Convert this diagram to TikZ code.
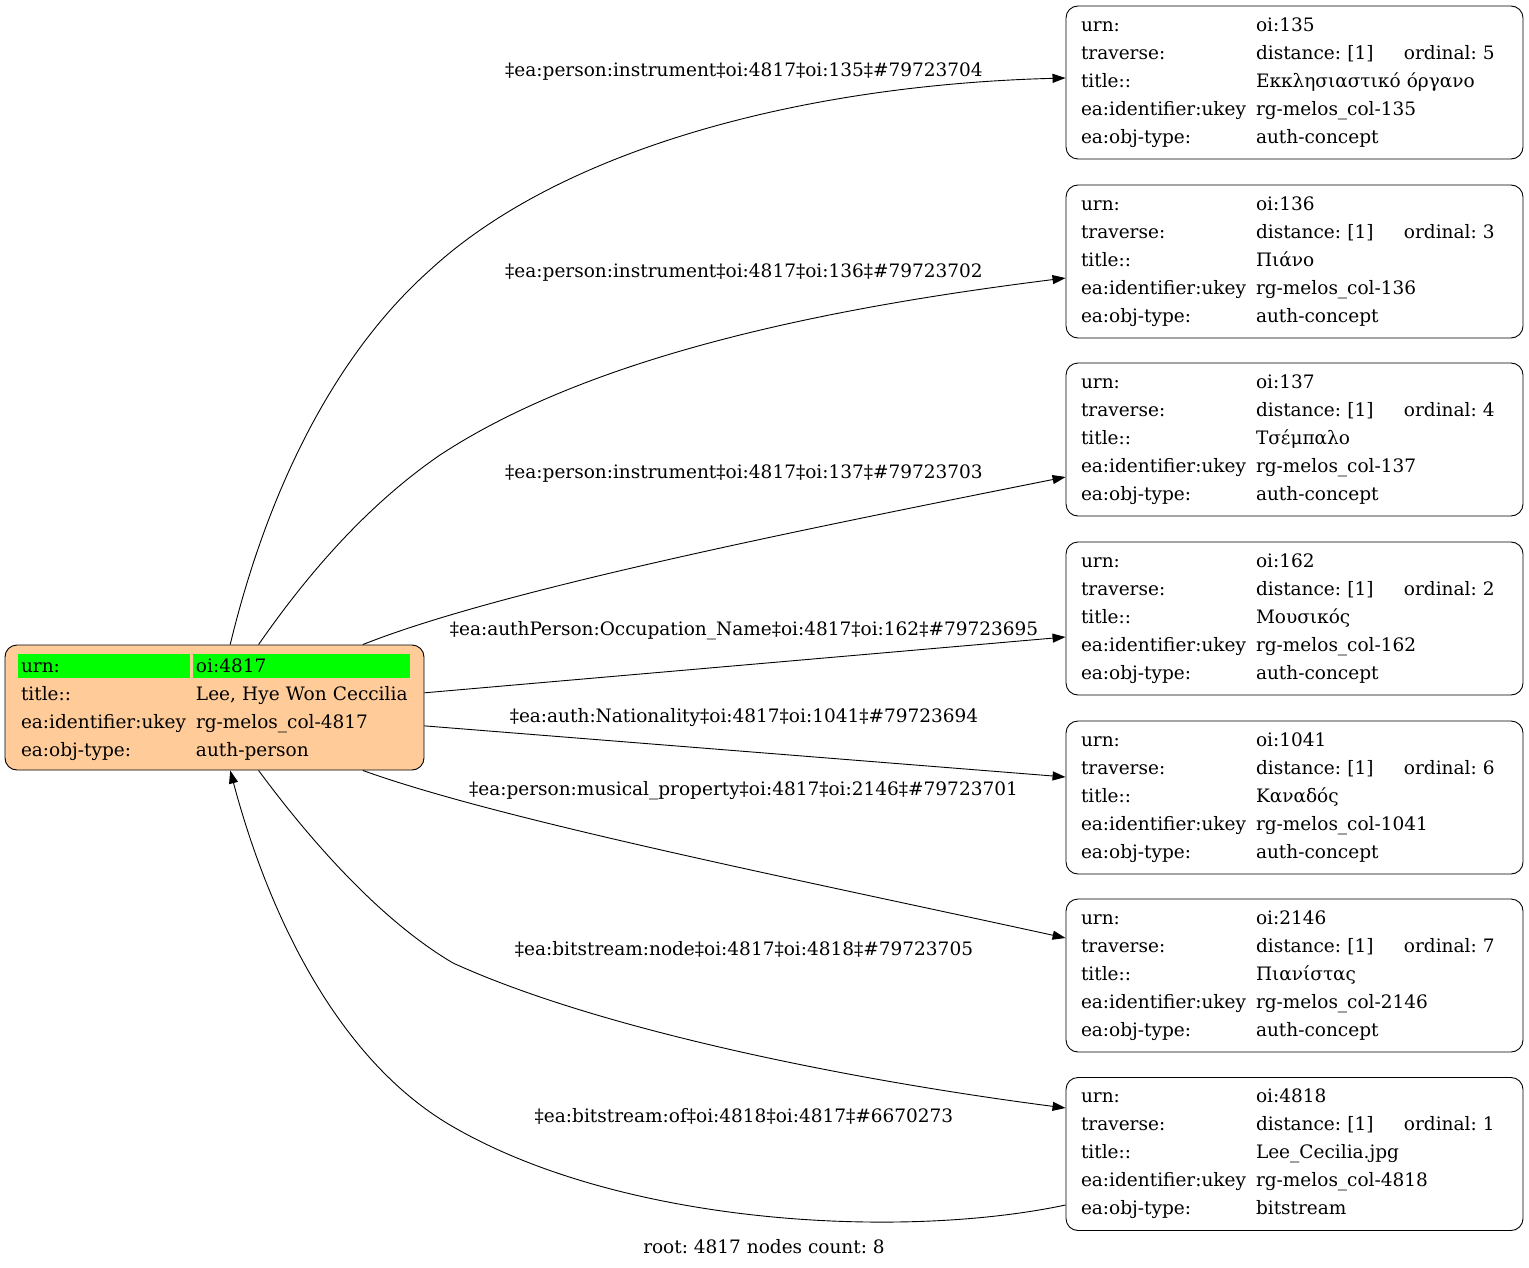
\documentclass[tikz,border=0pt]{standalone}
\usepackage{fontspec}
\setmainfont{DejaVu Serif}
\usepackage{xcolor}
\usepackage{tikz}
\usetikzlibrary{arrows.meta}
\usetikzlibrary{positioning,calc}
\frenchspacing

\definecolor{rootfill}{HTML}{FFCC99}
\definecolor{urngreen}{HTML}{00FF00}

\newcommand{\greencell}[1]{\rlap{\hspace{-3pt}\textcolor{urngreen}{\rule[-6pt]{#1}{24pt}}}}
\newcommand{\conceptrows}[5]{%
\makebox[175pt][l]{urn:}#1\\
\makebox[175pt][l]{traverse:}\makebox[148pt][l]{distance: [1]}ordinal: #2\\
\makebox[175pt][l]{title::}#3\\
\makebox[175pt][l]{ea:identifier:ukey}rg-melos\_col-#4\\
\makebox[175pt][l]{ea:obj-type:}#5}

\begin{document}
\begin{tikzpicture}[x=1pt, y=-1pt, line width=0.9pt,
	every node/.style={font=\fontsize{18.5}{28}\selectfont},
	concept/.style={draw, rectangle, rounded corners=12pt, align=left, text width=427pt, inner xsep=15pt, inner ysep=0pt, minimum height=153pt},
	rootbox/.style={draw, rectangle, rounded corners=12pt, fill=rootfill, align=left, text width=387pt, inner xsep=16pt, inner ysep=0pt, minimum height=125pt},
	edge/.style={-{Triangle[length=13pt,width=9pt]}},
	elabel/.style={inner sep=0pt}]
		\useasboundingbox (0,0) rectangle (1529,1268);

		\node[rootbox] (root) at (214.5,707.5) {\greencell{172pt}\makebox[175pt][l]{urn:}\greencell{217pt}oi:4817\\
			\makebox[175pt][l]{title::}Lee, Hye Won Ceccilia\\
			\makebox[175pt][l]{ea:identifier:ukey}rg-melos\_col-4817\\
			\makebox[175pt][l]{ea:obj-type:}auth-person};

		\node[concept] (c135) at (1294.5,82.5) {\conceptrows{oi:135}{5}{Εκκλησιαστικό όργανο}{135}{auth-concept}};
		\node[concept] (c136) at (1294.5,261.5) {\conceptrows{oi:136}{3}{Πιάνο}{136}{auth-concept}};
		\node[concept] (c137) at (1294.5,439.5) {\conceptrows{oi:137}{4}{Τσέμπαλο}{137}{auth-concept}};
		\node[concept] (c162) at (1294.5,618.5) {\conceptrows{oi:162}{2}{Μουσικός}{162}{auth-concept}};
		\node[concept] (c1041) at (1294.5,797.5) {\conceptrows{oi:1041}{6}{Καναδός}{1041}{auth-concept}};
		\node[concept] (c2146) at (1294.5,975.5) {\conceptrows{oi:2146}{7}{Πιανίστας}{2146}{auth-concept}};
		\node[concept] (c4818) at (1294.5,1154) {\conceptrows{oi:4818}{1}{Lee\_Cecilia.jpg}{4818}{bitstream}};

		\draw[edge] (root.76) .. controls (270,480) and (340,350) .. (430,270) .. controls (560,150) and (800,85) .. ([yshift=4.5pt]c135.west);
		\draw[edge] (root.55) .. controls (300,585) and (360,510) .. (440,455) .. controls (600,350) and (850,305) .. ([yshift=-16.5pt]c136.west);
		\draw[edge] (root.23) .. controls (500,590) and (800,530) .. ([yshift=-37.5pt]c137.west);
		\draw[edge] (root.4.8) -- ([yshift=-18.5pt]c162.west);
		\draw[edge] (root.-5) -- ([yshift=20.5pt]c1041.west);
		\draw[edge] (root.-23) .. controls (500,820) and (800,880) .. ([yshift=37.5pt]c2146.west);
		\draw[edge] (root.-55) .. controls (310,840) and (380,920) .. (453,963) .. controls (600,1030) and (850,1080) .. ([yshift=46pt]c4818.west);
		\draw[edge] ([yshift=-51pt]c4818.west) .. controls (900,1240) and (620,1225) .. (450,1125) .. controls (340,1060) and (270,920) .. (root.-76);

		\node[elabel] (l135) at (744,72) {‡ea:person:instrument‡oi:4817‡oi:135‡\#79723704};
		\node[elabel] (l136) at (744,273) {‡ea:person:instrument‡oi:4817‡oi:136‡\#79723702};
		\node[elabel] (l137) at (744,474) {‡ea:person:instrument‡oi:4817‡oi:137‡\#79723703};
		\node[elabel] (l162) at (744,631) {‡ea:authPerson:Occupation\_Name‡oi:4817‡oi:162‡\#79723695};
		\node[elabel] (l1041) at (744,718) {‡ea:auth:Nationality‡oi:4817‡oi:1041‡\#79723694};
		\node[elabel] (l2146) at (743.5,791) {‡ea:person:musical\_property‡oi:4817‡oi:2146‡\#79723701};
		\node[elabel] (l4818) at (744,949) {‡ea:bitstream:node‡oi:4817‡oi:4818‡\#79723705};
		\node[elabel] (lof) at (744,1116) {‡ea:bitstream:of‡oi:4818‡oi:4817‡\#6670273};

		\node[elabel] (footer) at (764,1247) {root: 4817 nodes count: 8};
\end{tikzpicture}
\end{document}
